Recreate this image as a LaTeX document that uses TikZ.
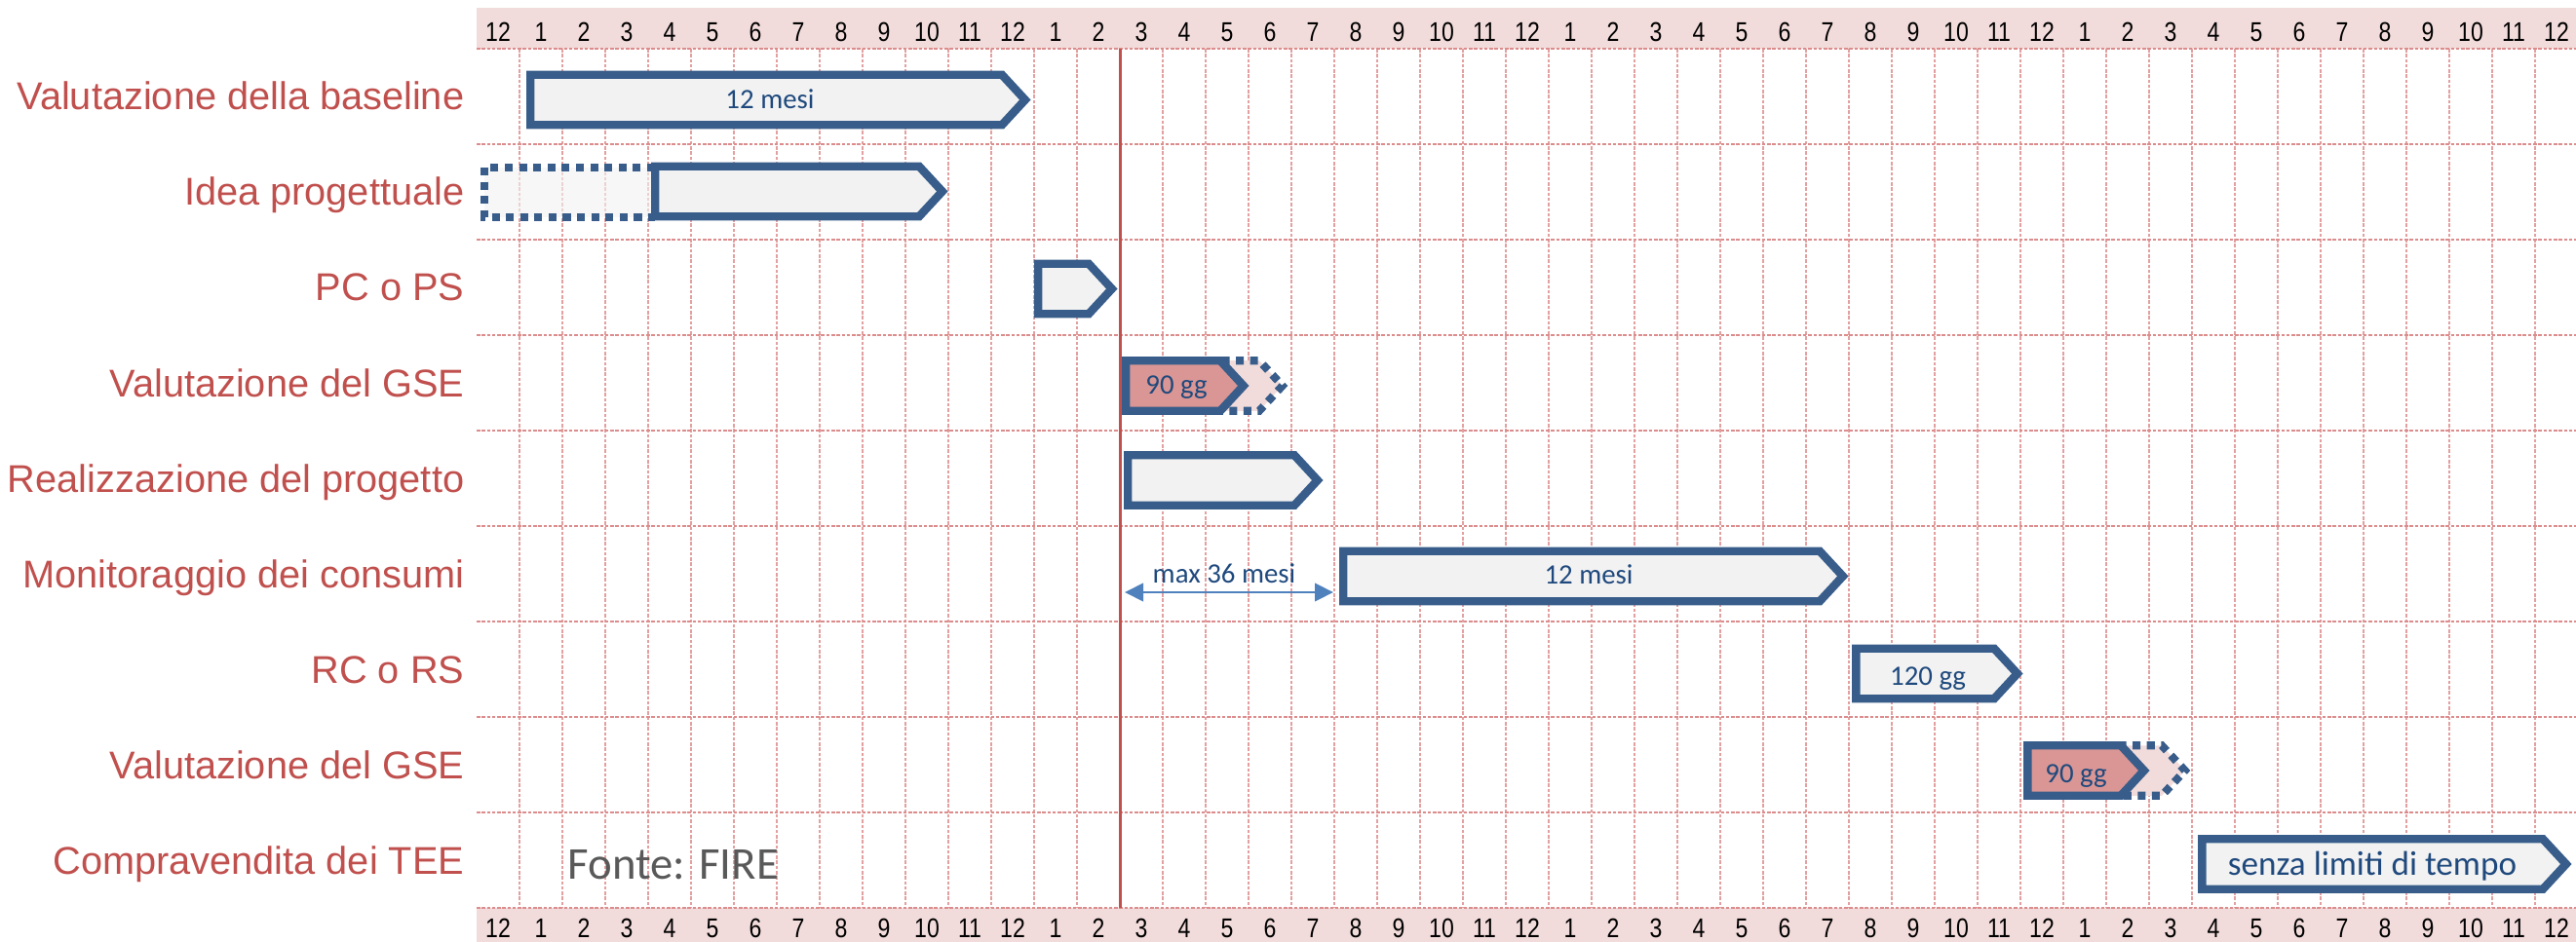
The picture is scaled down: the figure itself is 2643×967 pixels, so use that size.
\documentclass[tikz,border=0pt]{standalone}
\usepackage{fontspec}
\setmainfont{Liberation Sans}
\newfontfamily\numfont[FakeStretch=0.83]{Liberation Sans}
\newfontfamily\calfont{Carlito}
\usetikzlibrary{arrows.meta}
\definecolor{lblred}{HTML}{C0504D}
\definecolor{bandpink}{HTML}{F2DCDB}
\definecolor{gridred}{HTML}{E3A0A0}
\definecolor{hgridred}{HTML}{DC8C8C}
\definecolor{barblue}{HTML}{385D8A}
\definecolor{barfill}{HTML}{F2F2F2}
\definecolor{pinkfill}{HTML}{D99694}
\definecolor{txtblue}{HTML}{1F497D}
\definecolor{arrblue}{HTML}{4F81BD}
\definecolor{fontegray}{HTML}{595959}
% #1 style, #2 outer left, #3 outer tip, #4 middle y
\newcommand\gbar[4][solidbar]{%
  \draw[#1] (#2+4.25,#4-25.75) -- (#3-30,#4-25.75) -- (#3-6.2,#4)
    -- (#3-30,#4+25.75) -- (#2+4.25,#4+25.75) -- cycle;}
\begin{document}
\begin{tikzpicture}[x=0.01cm,y=-0.01cm,
  rowlabel/.style={anchor=base east, text=lblred, font=\fontsize{11.3}{13}\selectfont, inner sep=0pt},
  hdr/.style={anchor=base, font=\numfont\fontsize{7.9}{9}\selectfont, text=black, inner sep=0pt},
  bartext/.style={anchor=base, text=txtblue, font=\calfont\fontsize{8.2}{10}\selectfont, inner sep=0pt},
  solidbar/.style={draw=barblue, line width=2.4pt, fill=barfill, miter limit=10},
  pinkbar/.style={solidbar, fill=pinkfill},
  dotext/.style={draw=barblue, line width=2.3pt, dash pattern=on 2.3pt off 1.85pt, fill=bandpink},
  dotline/.style={draw=barblue, line width=2.3pt, dash pattern=on 2.3pt off 1.85pt},
  vgrid/.style={draw=gridred, line width=0.45pt, dash pattern=on 1pt off 0.5pt},
  hgrid/.style={draw=hgridred, line width=0.75pt, dash pattern=on 1pt off 0.5pt},
  redline/.style={draw=lblred, line width=0.85pt},
  dimarrow/.style={draw=arrblue, line width=0.85pt, {Triangle[length=5.4pt,width=5.2pt]}-{Triangle[length=5.4pt,width=5.2pt]}}
]
\useasboundingbox (0,0) rectangle (2643,967);
% bands
\fill[bandpink] (489,8) rectangle (2643,50);
\fill[bandpink] (489,932) rectangle (2643,967);
% grid
\foreach \k in {1,...,48} \draw[vgrid] (489+44*\k,50) -- (489+44*\k,932);
\foreach \j in {0,...,9} \draw[hgrid] (489,50+98*\j) -- (2643,50+98*\j);
% month labels
\foreach \k in {0,...,48}{%
  \pgfmathtruncatemacro\lab{mod(\k+11,12)+1}%
  \node[hdr] (h\k) at (511+44*\k,43) {\lab};
  \node[hdr] (f\k) at (511+44*\k,962) {\lab};
}
% red vertical line
\draw[redline] (1149,50) -- (1149,932);
% row labels
\node[rowlabel] (r1) at (477,113) {Valutazione della baseline};
\node[rowlabel] (r2) at (477,211) {Idea progettuale};
\node[rowlabel] (r3) at (477,309) {PC o PS};
\node[rowlabel] (r4) at (477,407) {Valutazione del GSE};
\node[rowlabel] (r5) at (477,505) {Realizzazione del progetto};
\node[rowlabel] (r6) at (477,603) {Monitoraggio dei consumi};
\node[rowlabel] (r7) at (477,701) {RC o RS};
\node[rowlabel] (r8) at (477,799) {Valutazione del GSE};
\node[rowlabel] (r9) at (477,897) {Compravendita dei TEE};
% bars
\gbar{540}{1058}{102.5}
\fill[barfill, fill opacity=0.6] (497,172) rectangle (672,223);
\draw[dotline] (672,172) -- (497,172) -- (497,223) -- (672,223);
\gbar{668}{973}{196.5}
\gbar{1061}{1147}{296.5}
\gbar[dotext]{1220}{1322}{396}
\gbar[pinkbar]{1151}{1282}{396}
\gbar{1153}{1358}{493}
\gbar{1374}{1897}{591.5}
\gbar{1900}{2076}{691.5}
\gbar[dotext]{2140}{2248}{791}
\gbar[pinkbar]{2076}{2206}{791}
\gbar{2255}{2639}{887}
% bar texts
\node[bartext] (t1) at (790,112) {12 mesi};
\node[bartext] (t4) at (1207,405) {90 gg};
\node[bartext] (t6) at (1630,599) {12 mesi};
\node[bartext] (t6b) at (1256,598) {max 36 mesi};
\node[bartext] (t7) at (1978,703) {120 gg};
\node[bartext] (t8) at (2130,803) {90 gg};
\node[bartext, font=\calfont\fontsize{10}{12}\selectfont] (t9) at (2434,898) {senza limiti di tempo};
% dimension arrow
\coordinate (m36a) at (1154,608);
\coordinate (m36b) at (1368,608);
\draw[dimarrow] (m36a) -- (m36b);
% source
\node[anchor=base west, text=fontegray, font=\calfont\fontsize{13.3}{16}\selectfont, inner sep=0pt] (fonte) at (582,902) {Fonte: FIRE};
\end{tikzpicture}
\end{document}
